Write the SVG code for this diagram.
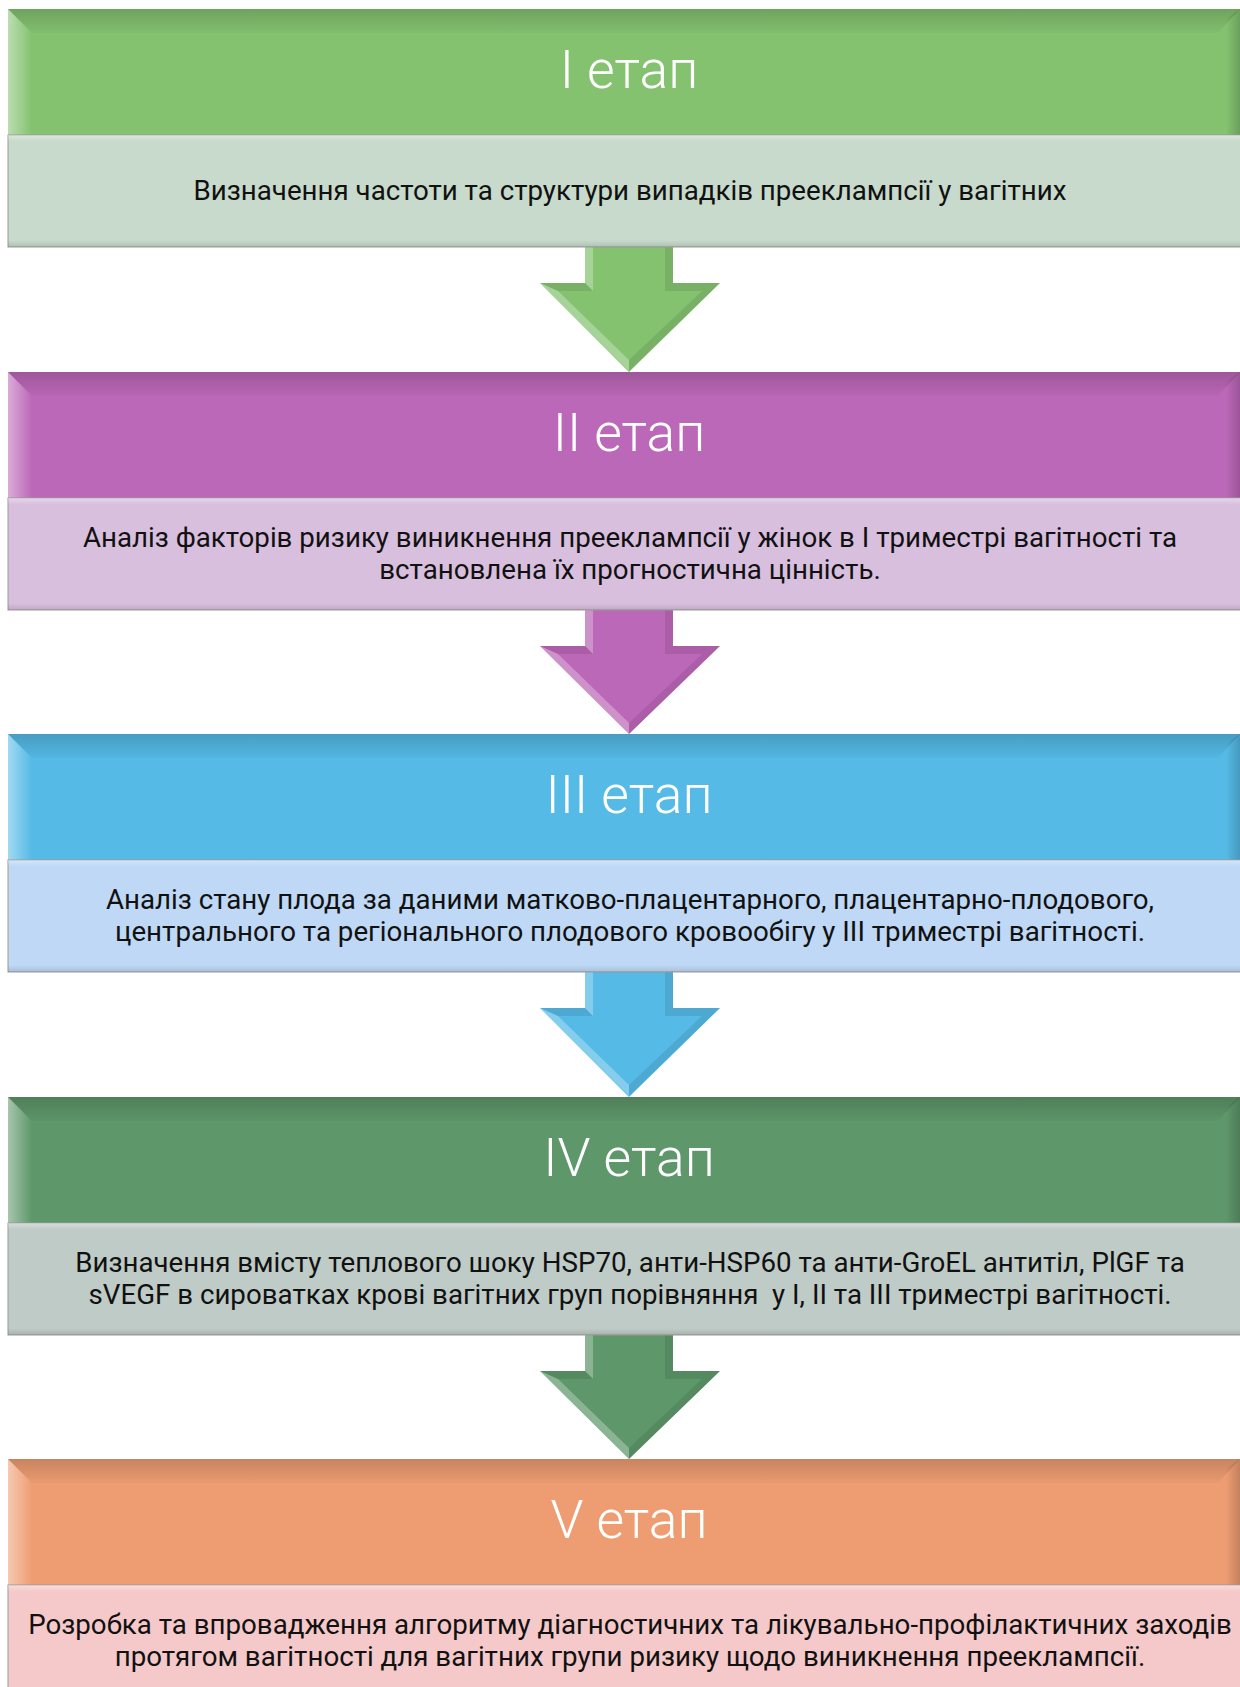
<svg xmlns="http://www.w3.org/2000/svg" width="1240" height="1687" viewBox="0 0 1240 1687">
<defs>
<linearGradient id="topDark" x1="0" y1="0" x2="0" y2="1"><stop offset="0" stop-color="#000" stop-opacity="0.16"/><stop offset="1" stop-color="#000" stop-opacity="0.02"/></linearGradient>
<linearGradient id="leftLight" x1="0" y1="0" x2="1" y2="0"><stop offset="0" stop-color="#fff" stop-opacity="0.45"/><stop offset="1" stop-color="#fff" stop-opacity="0"/></linearGradient>
<linearGradient id="rightDark" x1="0" y1="0" x2="1" y2="0"><stop offset="0" stop-color="#000" stop-opacity="0"/><stop offset="1" stop-color="#000" stop-opacity="0.18"/></linearGradient>
<linearGradient id="bodyShade" x1="0" y1="0" x2="0" y2="1"><stop offset="0" stop-color="#fff" stop-opacity="0.35"/><stop offset="0.06" stop-color="#fff" stop-opacity="0"/><stop offset="0.94" stop-color="#000" stop-opacity="0"/><stop offset="1" stop-color="#000" stop-opacity="0.12"/></linearGradient>
<g id="arrowBevel">
<polygon class="arLight" points="585,0 593,0 593,44 585,36"/>
<polygon class="arDark" points="665,0 673,0 673,36 665,44"/>
<polygon class="arDark" points="540,36 585,36 593,44 558,44"/>
<polygon class="arDark" points="673,36 720,36 702,44 665,44"/>
<polygon class="arLight" points="540,36 558,44 629,113 629,124"/>
<polygon class="arDark" points="720,36 702,44 629,113 629,124"/>
</g>
</defs>
<style>
.hdr-text{font-family:Roboto,"Noto Sans","Liberation Sans",sans-serif;font-weight:300;font-size:53.5px;fill:#fff;text-anchor:middle}
.body-text{font-family:Roboto,"Noto Sans","Liberation Sans",sans-serif;font-size:27.7px;fill:#111;text-anchor:middle}
.body{stroke:#9a9a9a;stroke-width:1}
.s1{fill:#84C270}.b1{fill:#C7DACB}
.s2{fill:#BC68B8}.b2{fill:#D9BFDE}
.s3{fill:#55BAE6}.b3{fill:#BED8F5}
.s4{fill:#5E976A}.b4{fill:#BFCBC6}
.s5{fill:#EE9D72}.b5{fill:#F5C9CA}
.bevT{fill:url(#topDark)}.bevL{fill:url(#leftLight)}.bevR{fill:url(#rightDark)}
.arLight{fill:#fff;fill-opacity:0.28}.arDark{fill:#000;fill-opacity:0.09}
</style>
<g id="connectors">
<g id="arrow1" transform="translate(0,247)">
<polygon class="s1" points="585,0 673,0 673,36 720,36 629,125 540,36 585,36"/>
<use href="#arrowBevel"/>
</g>
<g id="arrow2" transform="translate(0,610)">
<polygon class="s2" points="585,0 673,0 673,36 720,36 629,124 540,36 585,36"/>
<use href="#arrowBevel"/>
</g>
<g id="arrow3" transform="translate(0,972)">
<polygon class="s3" points="585,0 673,0 673,36 720,36 629,125 540,36 585,36"/>
<use href="#arrowBevel"/>
</g>
<g id="arrow4" transform="translate(0,1335)">
<polygon class="s4" points="585,0 673,0 673,36 720,36 629,124 540,36 585,36"/>
<use href="#arrowBevel"/>
</g>
</g>
<g id="stage1" transform="translate(0,9)">
<rect class="s1" x="8" y="0" width="1232" height="126"/>
<polygon class="bevT" points="8,0 1240,0 1218,24 32,24"/>
<polygon class="bevL" points="8,0 32,24 32,126 8,126"/>
<polygon class="bevR" points="1226,10 1240,0 1240,126 1226,126"/>
<text class="hdr-text" x="629" y="79">I етап</text>
<rect class="body b1" x="8" y="126" width="1240" height="112"/>
<rect x="8" y="126" width="1240" height="112" fill="url(#bodyShade)"/>
<text class="body-text" x="630" y="191">Визначення частоти та структури випадків прееклампсії у вагітних</text>
</g>
<g id="stage2" transform="translate(0,372)">
<rect class="s2" x="8" y="0" width="1232" height="126"/>
<polygon class="bevT" points="8,0 1240,0 1218,24 32,24"/>
<polygon class="bevL" points="8,0 32,24 32,126 8,126"/>
<polygon class="bevR" points="1226,10 1240,0 1240,126 1226,126"/>
<text class="hdr-text" x="629" y="79">II етап</text>
<rect class="body b2" x="8" y="126" width="1240" height="112"/>
<rect x="8" y="126" width="1240" height="112" fill="url(#bodyShade)"/>
<text class="body-text" x="630" y="175">Аналіз факторів ризику виникнення прееклампсії у жінок в I триместрі вагітності та</text>
<text class="body-text" x="630" y="207">встановлена їх прогностична цінність.</text>
</g>
<g id="stage3" transform="translate(0,734)">
<rect class="s3" x="8" y="0" width="1232" height="126"/>
<polygon class="bevT" points="8,0 1240,0 1218,24 32,24"/>
<polygon class="bevL" points="8,0 32,24 32,126 8,126"/>
<polygon class="bevR" points="1226,10 1240,0 1240,126 1226,126"/>
<text class="hdr-text" x="629" y="79">III етап</text>
<rect class="body b3" x="8" y="126" width="1240" height="112"/>
<rect x="8" y="126" width="1240" height="112" fill="url(#bodyShade)"/>
<text class="body-text" x="630" y="175">Аналіз стану плода за даними матково-плацентарного, плацентарно-плодового,</text>
<text class="body-text" x="630" y="207">центрального та регіонального плодового кровообігу у III триместрі вагітності.</text>
</g>
<g id="stage4" transform="translate(0,1097)">
<rect class="s4" x="8" y="0" width="1232" height="126"/>
<polygon class="bevT" points="8,0 1240,0 1218,24 32,24"/>
<polygon class="bevL" points="8,0 32,24 32,126 8,126"/>
<polygon class="bevR" points="1226,10 1240,0 1240,126 1226,126"/>
<text class="hdr-text" x="629" y="79">IV етап</text>
<rect class="body b4" x="8" y="126" width="1240" height="112"/>
<rect x="8" y="126" width="1240" height="112" fill="url(#bodyShade)"/>
<text class="body-text" x="630" y="175">Визначення вмісту теплового шоку HSP70, анти-HSP60 та анти-GroEL антитіл, PlGF та</text>
<text class="body-text" x="630" y="207" xml:space="preserve">sVEGF в сироватках крові вагітних груп порівняння  у I, II та III триместрі вагітності.</text>
</g>
<g id="stage5" transform="translate(0,1459)">
<rect class="s5" x="8" y="0" width="1232" height="126"/>
<polygon class="bevT" points="8,0 1240,0 1218,24 32,24"/>
<polygon class="bevL" points="8,0 32,24 32,126 8,126"/>
<polygon class="bevR" points="1226,10 1240,0 1240,126 1226,126"/>
<text class="hdr-text" x="629" y="79">V етап</text>
<rect class="body b5" x="8" y="126" width="1240" height="112"/>
<rect x="8" y="126" width="1240" height="112" fill="url(#bodyShade)"/>
<text class="body-text" x="630" y="175">Розробка та впровадження алгоритму діагностичних та лікувально-профілактичних заходів</text>
<text class="body-text" x="630" y="207">протягом вагітності для вагітних групи ризику щодо виникнення прееклампсії.</text>
</g>
</svg>
